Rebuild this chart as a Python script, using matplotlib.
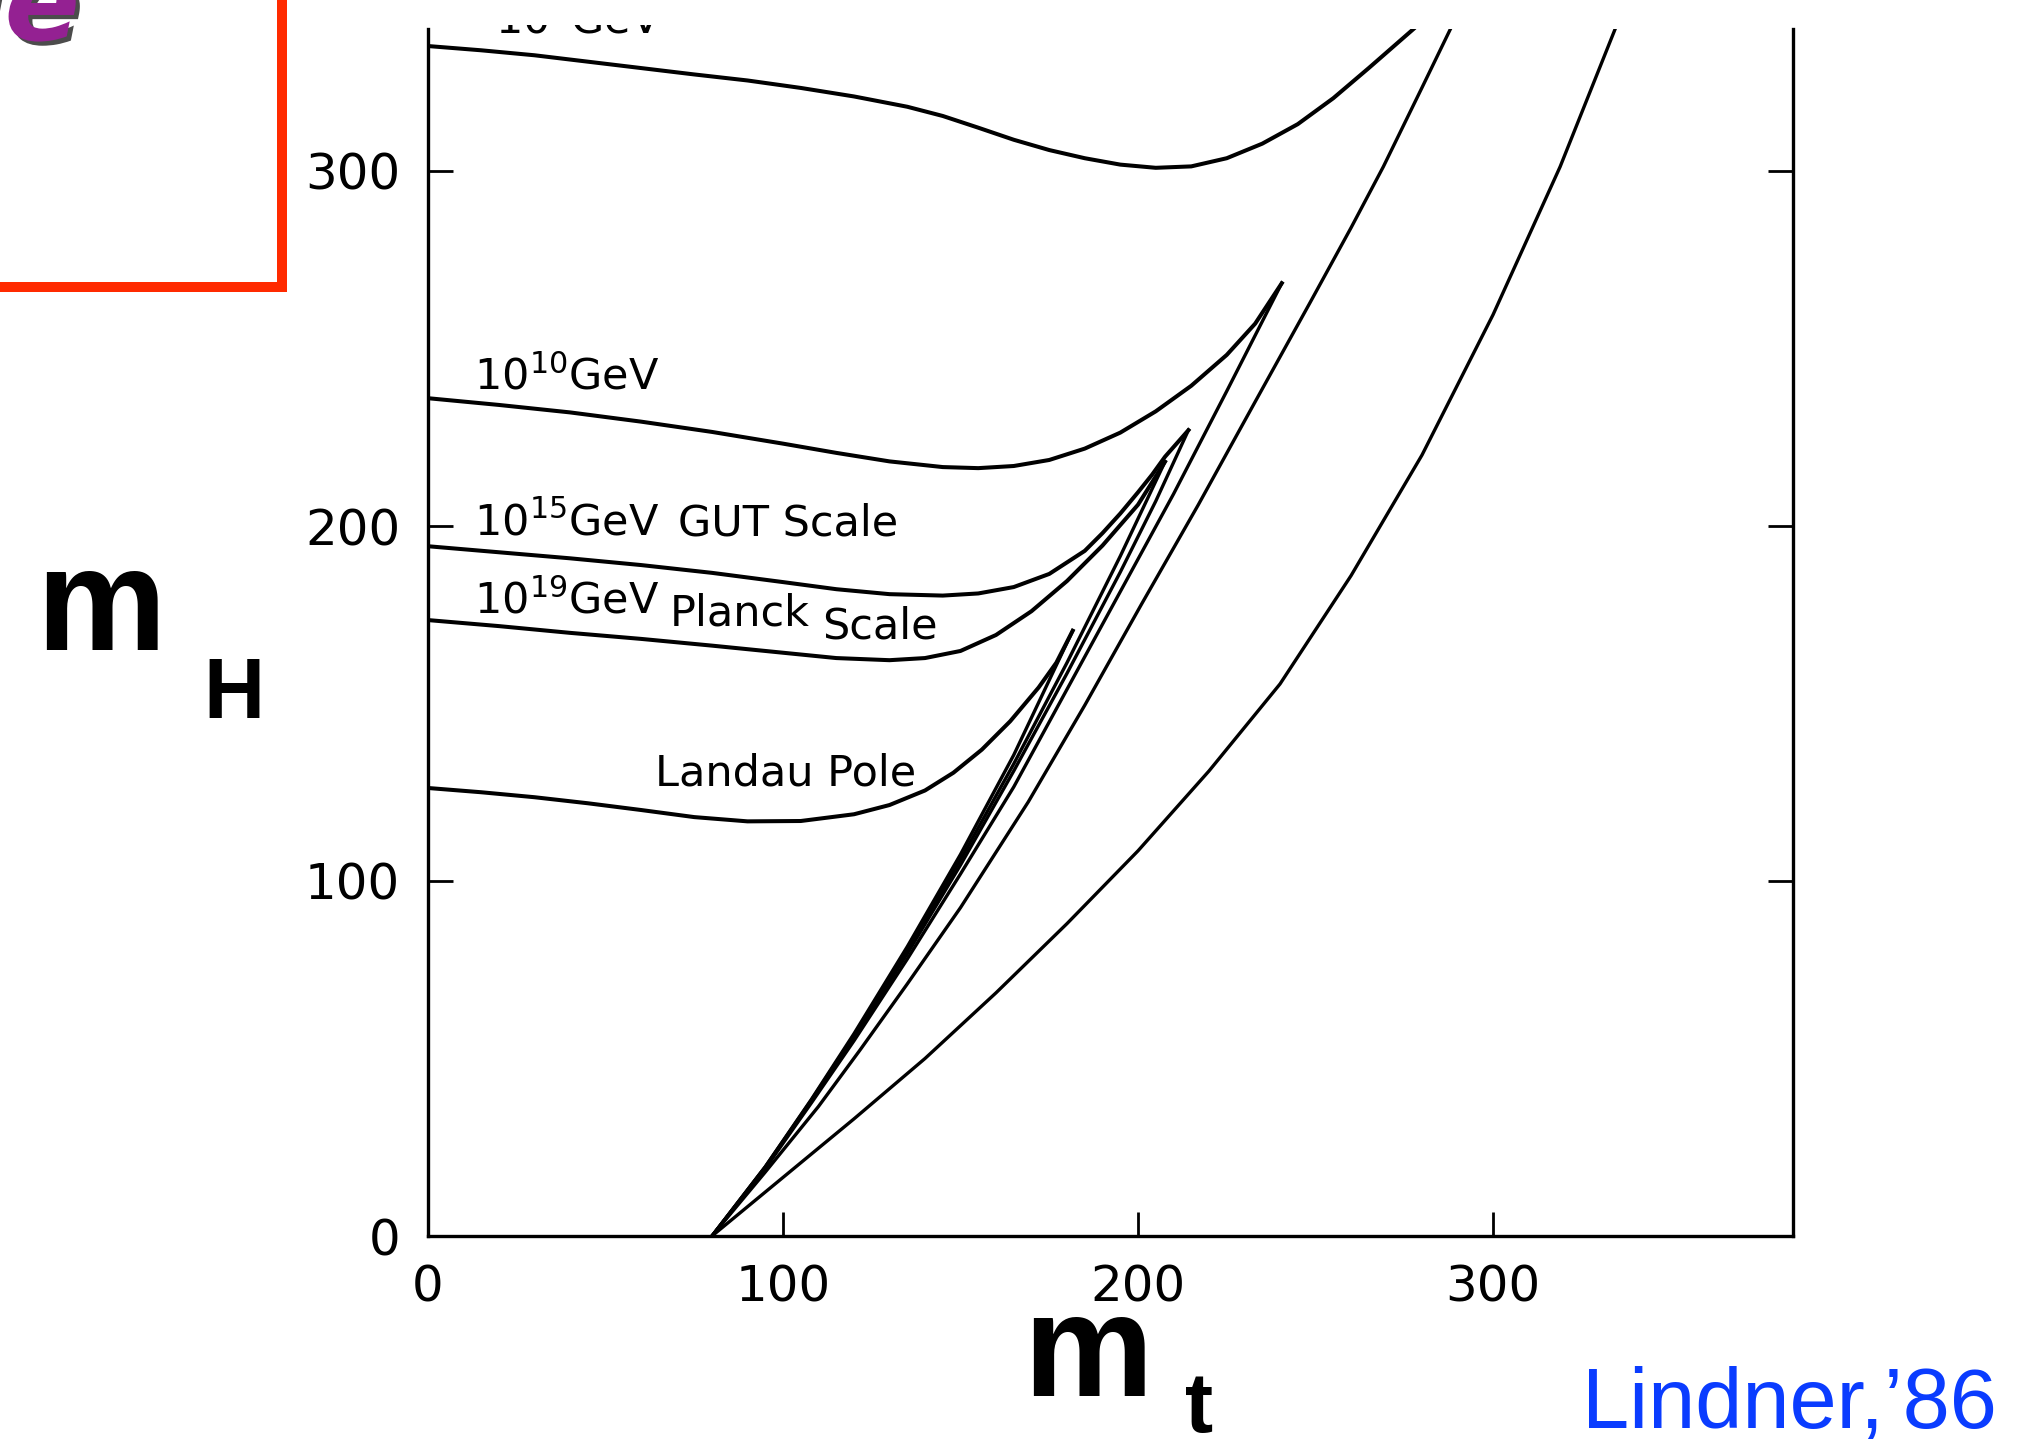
import matplotlib
matplotlib.use('Agg')
import matplotlib.pyplot as plt
from matplotlib.patches import Rectangle
from matplotlib.transforms import Bbox
import matplotlib.patheffects as pe

plt.rcParams['font.family'] = ['DejaVu Sans']

###############################################################################################
# Higgs mass bounds vs top mass for several cut-off scales (GeV)

ticks = [0, 100, 200, 300]

# 10^4 GeV: upper bound (leaves the frame at the top) and lower bound
up_4_mt = [0, 15, 30, 45, 60, 75, 90, 105, 120, 135, 145, 155, 165, 175, 185, 195, 205, 215, 225, 235, 245, 255, 265, 277.6]
up_4_mh = [335.2, 334, 332.6, 330.8, 329, 327.2, 325.5, 323.4, 321, 318.1, 315.5, 312.2, 308.8, 305.9, 303.6, 301.8,
           300.9, 301.3, 303.6, 307.7, 313.2, 320.5, 329, 340]
lo_4_mt = [80, 95, 110, 121.7, 135, 150, 169.1, 185, 201, 217, 233, 248.5, 260, 269.1, 280, 288]
lo_4_mh = [0, 18, 36.5, 52.4, 71, 92.5, 122.3, 149.5, 178, 206, 235, 263, 284, 301.2, 323.5, 340]

# 10^10 GeV
up_10_mt = [0, 20, 40, 60, 80, 100, 115, 130, 145, 155, 165, 175, 185, 195, 205, 215, 225, 233, 240.5]
up_10_mh = [236, 234.1, 232, 229.4, 226.5, 223.2, 220.6, 218.2, 216.6, 216.3, 216.9, 218.6, 221.8, 226.3, 232.3,
            239.5, 248.2, 257, 268.4]
lo_10_mt = [80, 95, 108, 120, 135, 150, 165, 180, 195, 210, 225, 240.5]
lo_10_mh = [0, 19, 37.5, 55, 78, 102, 126.5, 154, 181.5, 209, 238, 268.4]

# 10^15 GeV (GUT scale)
up_15_mt = [0, 20, 40, 60, 80, 100, 115, 130, 145, 155, 165, 175, 185, 190, 195, 200, 204, 207.6, 214.2]
up_15_mh = [194.3, 192.6, 190.9, 189, 186.8, 184.2, 182.2, 180.8, 180.4, 181, 182.8, 186.5, 193, 198, 203.5,
            209.5, 214.5, 219.5, 227]
lo_15_mt = [80, 95, 108, 120, 135, 150, 165, 180, 195, 205, 214.2]
lo_15_mh = [0, 19.3, 38, 56, 79.5, 104.5, 131, 158.5, 187, 207, 227]

# 10^19 GeV (Planck scale)
up_19_mt = [0, 20, 40, 60, 80, 100, 115, 130, 140, 150, 160, 170, 180, 190, 200, 207.6]
up_19_mh = [173.5, 171.8, 169.9, 168.2, 166.3, 164.3, 162.8, 162.2, 162.8, 164.8, 169.3, 176, 184.5, 194.5,
            206, 218.1]
lo_19_mt = [80, 95, 108, 120, 135, 150, 165, 180, 195, 207.6]
lo_19_mh = [0, 19.5, 38.3, 56.5, 80.5, 106, 133, 161.5, 191.5, 218.1]

# Landau pole
up_lp_mt = [0, 15, 30, 45, 60, 75, 90, 105, 120, 130, 140, 148, 156, 164, 172, 177, 181.6]
up_lp_mh = [126.2, 125, 123.6, 121.9, 120, 118, 116.8, 116.9, 118.8, 121.4, 125.5, 130.5, 137, 145, 154.5, 161.5, 170.5]
lo_lp_mt = [80, 95, 108, 120, 135, 150, 165, 181.6]
lo_lp_mh = [0, 19.5, 38.5, 57, 81.5, 107.5, 135.5, 170.5]

# outermost lower bound
vs_mt = [80, 100, 120, 140, 160, 180, 200, 220, 240, 260, 280, 300, 318.9, 334.4]
vs_mh = [0, 16.5, 33, 50, 68.5, 88, 108.5, 131, 155.5, 186, 220, 259.5, 301.2, 340]

###############################################################################################

W, H = 2023, 1441
fig = plt.figure(figsize=(W / 100, H / 100), dpi=100)
ax = fig.add_axes([428 / W, 1 - 1236 / H, (1793 - 428) / W, (1236 - 29) / H])

lw_up = 2.9
lw_lo = 2.4
for xs, ys in [(up_4_mt, up_4_mh), (up_10_mt, up_10_mh), (up_15_mt, up_15_mh),
               (up_19_mt, up_19_mh), (up_lp_mt, up_lp_mh)]:
    ax.plot(xs, ys, color='black', lw=lw_up, solid_joinstyle='round')
for xs, ys in [(lo_4_mt, lo_4_mh), (lo_10_mt, lo_10_mh), (lo_15_mt, lo_15_mh),
               (lo_19_mt, lo_19_mh), (lo_lp_mt, lo_lp_mh), (vs_mt, vs_mh)]:
    ax.plot(xs, ys, color='black', lw=lw_lo, solid_joinstyle='round')

ax.set_xlim(0, 384.5)
ax.set_ylim(0, 340)
ax.spines['top'].set_visible(False)
for s in ['left', 'bottom', 'right']:
    ax.spines[s].set_linewidth(2.4)
ax.tick_params(axis='both', direction='in', labelsize=36, pad=20, width=2, length=17)
ax.tick_params(axis='y', right=True, length=18)
ax.set_xticks(ticks)
ax.set_yticks(ticks)

# curve labels
fs = 31
top = ax.text(19, 338.9, r'10$^{4}$GeV', fontsize=fs, va='baseline')
# the scanned figure is trimmed just above the frame, so only the foot of this label shows
top.set_clip_box(Bbox([[0, 0], [W, H - 25]]))
top.set_clip_on(True)
ax.text(13, 238.5, r'10$^{10}$GeV', fontsize=fs, va='baseline')
ax.text(13, 197.3, r'10$^{15}$GeV', fontsize=fs, va='baseline')
ax.text(70.5, 197.3, 'GUT Scale', fontsize=fs, va='baseline')
ax.text(13, 175.4, r'10$^{19}$GeV', fontsize=fs, va='baseline')
ax.text(68, 172.1, 'Planck', fontsize=fs, va='baseline')
ax.text(111, 168.4, 'Scale', fontsize=fs, va='baseline')
ax.text(64, 126.8, 'Landau Pole', fontsize=fs, va='baseline')

# axis names
bold = dict(family=['Liberation Sans', 'DejaVu Sans'], fontweight='bold', color='black', va='baseline')
fig.text(36 / W, 1 - 650 / H, 'm', fontsize=105, **bold)
fig.text(203 / W, 1 - 718 / H, 'H', fontsize=61, **bold)
fig.text(1023 / W, 1 - 1396 / H, 'm', fontsize=105, **bold)
fig.text(1185 / W, 1 - 1432 / H, 't', fontsize=61, **bold)

fig.text(1997 / W, 1 - 1428 / H, 'Lindner,\u201986', fontsize=61, color='#0a3cff',
         family=['Liberation Sans', 'DejaVu Sans'], ha='right', va='baseline')

# red frame and purple title fragment in the corner
fig.patches.append(Rectangle((-0.05, 1 - 286.5 / H), 0.05 + 282 / W, 0.1 + 286.5 / H,
                             transform=fig.transFigure, fill=False, edgecolor='#ff2a00', lw=7.2))
fig.text(80 / W, 1 - 40 / H, 'Scale', fontsize=80, color='#942192', fontweight='bold',
         style='italic', ha='right', va='baseline',
         path_effects=[pe.withSimplePatchShadow(offset=(3, -3), shadow_rgbFace='black', alpha=0.7)])

fig.savefig('out.png', dpi=100, facecolor='white')
